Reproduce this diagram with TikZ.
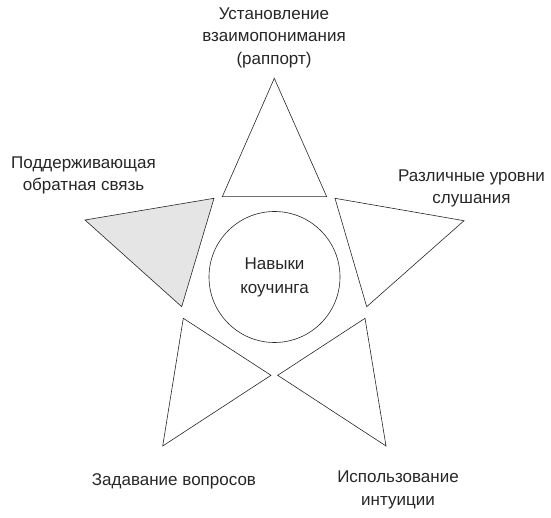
\documentclass[tikz,border=0pt]{standalone}
\usepackage{fontspec}
\setmainfont{Liberation Sans}
\usetikzlibrary{positioning}

\begin{document}
\begin{tikzpicture}[
    x=1pt, y=-1pt,
    part/.style={draw=black!85, line width=0.6pt, line join=miter, fill=white},
    partgray/.style={part, fill=black!10},
    hub/.style={circle, draw=black!85, line width=0.6pt, minimum size=131pt, inner sep=0pt, align=center, font=\fontsize{17}{24}\selectfont, text=black!85},
    caption/.style={align=center, inner sep=0pt, font=\fontsize{17}{22.5}\selectfont, text=black!85}
]
\useasboundingbox (0,0) rectangle (551,518);

% center
\node[hub] (skills) at (274.5,277) {Навыки\\коучинга};

% star points
\draw[part] (274.3,78.3) -- (222.3,196.7) -- (326.7,196.7) -- cycle;
\draw[partgray] (85,220) -- (214,198.3) -- (181.7,306.7) -- cycle;
\draw[part] (335,198.3) -- (464,220.7) -- (366.7,306.7) -- cycle;
\draw[part] (183.3,318.3) -- (271,375.3) -- (162.7,446) -- cycle;
\draw[part] (365,318.3) -- (277.7,375.3) -- (386,446) -- cycle;

% labels
\node[caption] (rapport) at (274,37.5) {Установление\\взаимопонимания\\(раппорт)};
\node[caption] (feedback) at (83.5,175.5) {Поддерживающая\\обратная связь};
\node[caption] (levels) at (471.5,188.5) {Различные уровни\\слушания};
\node[caption] (questions) at (174,481.5) {Задавание вопросов};
\node[caption] (intuition) at (398,490) {Использование\\интуиции};

\end{tikzpicture}
\end{document}
